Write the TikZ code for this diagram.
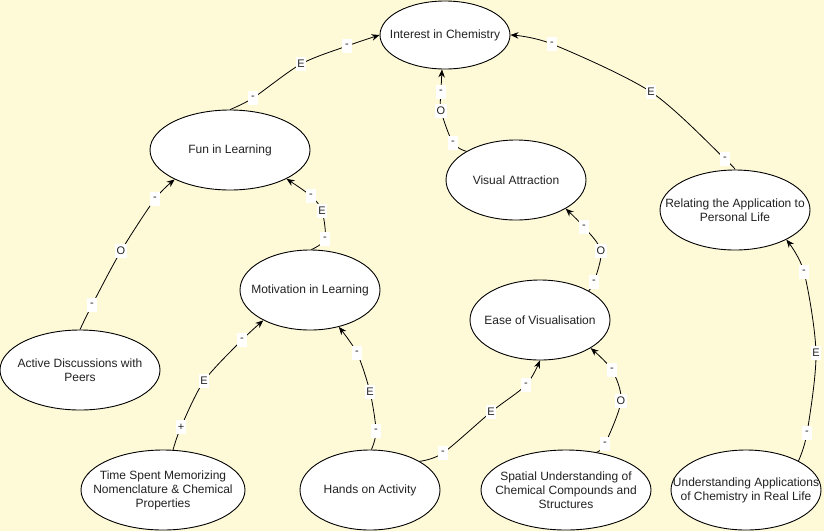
\documentclass[tikz,border=0pt]{standalone}
\usepackage{fontspec}
\setmainfont{Liberation Sans}
\usetikzlibrary{shapes.geometric,arrows.meta}
\definecolor{bgc}{HTML}{FEF9D7}
\definecolor{txtc}{HTML}{222222}
\begin{document}
\begin{tikzpicture}[x=1pt,y=-1pt,
  ell/.style={ellipse, draw=black, fill=white, line width=0.9pt, inner sep=0pt, minimum height=80pt},
  txt/.style={align=center, font=\fontsize{12}{14}\selectfont, text=txtc},
  lbl/.style={fill=white, font=\fontsize{11}{13}\selectfont, inner xsep=1.5pt, inner ysep=0pt, minimum width=10pt, minimum height=14pt, text=txtc},
  con/.style={draw=black, line width=0.8pt, -{Stealth[length=8pt,width=6.5pt]}}
]
\path[fill=bgc] (0,0) rectangle (824,531);
\useasboundingbox (0,0) rectangle (824,531);

% nodes
\node[ell, minimum width=130pt, minimum height=68pt, label={[txt]center:Interest in Chemistry}] (interest) at (445,35) {};
\node[ell, minimum width=160pt, label={[txt]center:Fun in Learning}] (fun) at (230,150) {};
\node[ell, minimum width=140pt, label={[txt]center:Visual Attraction}] (visual) at (516,180) {};
\node[ell, minimum width=150pt, label={[txt]center:{Relating the Application to\\Personal Life}}] (relating) at (735,210) {};
\node[ell, minimum width=160pt, label={[txt]center:{Active Discussions with\\Peers}}] (active) at (80,370) {};
\node[ell, minimum width=140pt, label={[txt]center:Motivation in Learning}] (motiv) at (310,290) {};
\node[ell, minimum width=140pt, label={[txt]center:Ease of Visualisation}] (ease) at (540,320) {};
\node[ell, minimum width=164pt, label={[txt]center:{Time Spent Memorizing\\Nomenclature \& Chemical\\Properties}}] (time) at (163,490) {};
\node[ell, minimum width=140pt, label={[txt]center:Hands on Activity}] (hands) at (370,490) {};
\node[ell, minimum width=170pt, label={[txt]center:{Spatial Understanding of\\Chemical Compounds and\\Structures}}] (spatial) at (566,490) {};
\node[ell, minimum width=150pt, label={[txt]center:{Understanding Applications\\of Chemistry in Real Life}}] (underst) at (746,490) {};

% via points (label positions)
\coordinate (a1) at (253,98);  \coordinate (a2) at (301,64);  \coordinate (a3) at (347,46);
\coordinate (b1) at (453,143); \coordinate (b2) at (441,111); \coordinate (b3) at (441,92);
\coordinate (c1) at (725,159); \coordinate (c2) at (651,92);  \coordinate (c3) at (552,44);
\coordinate (d1) at (92,305);  \coordinate (d2) at (121,251); \coordinate (d3) at (155,199);
\coordinate (e1) at (325,239); \coordinate (e2) at (322,211); \coordinate (e3) at (311,196);
\coordinate (f1) at (594,282); \coordinate (f2) at (601,251); \coordinate (f3) at (584,227);
\coordinate (g1) at (807,433); \coordinate (g2) at (816,353); \coordinate (g3) at (804,272);
\coordinate (h1) at (181,427); \coordinate (h2) at (204,381); \coordinate (h3) at (242,340);
\coordinate (i1) at (376,431); \coordinate (i2) at (370,392); \coordinate (i3) at (357,353);
\coordinate (j1) at (443,453); \coordinate (j2) at (491,412); \coordinate (j3) at (526,385);
\coordinate (k1) at (605,444); \coordinate (k2) at (621,401); \coordinate (k3) at (612,370);

% connectors
\draw[con] plot[smooth] coordinates {(fun.north) (a1) (a2) (a3) (interest.west)};
\draw[con] plot[smooth] coordinates {(visual.150) (b1) (b2) (b3) (interest.265)};
\draw[con] plot[smooth] coordinates {(relating.north) (c1) (c2) (c3) (interest.east)};
\draw[con] plot[smooth] coordinates {(active.north) (d1) (d2) (d3) (fun.208)};
\draw[con] plot[smooth] coordinates {(motiv.88) (e1) (e2) (e3) (fun.333)};
\draw[con] plot[smooth] coordinates {(ease.31) (f1) (f2) (f3) (visual.330)};
\draw[con] plot[smooth] coordinates {(underst.29) (g1) (g2) (g3) (relating.330)};
\draw[con] plot[smooth] coordinates {(time.76) (h1) (h2) (h3) (motiv.213)};
\draw[con] plot[smooth] coordinates {(hands.88) (i1) (i2) (i3) (motiv.308)};
\draw[con] plot[smooth] coordinates {(hands.30) (j1) (j2) (j3) (ease.south)};
\draw[con] plot[smooth] coordinates {(spatial.51) (k1) (k2) (k3) (ease.331)};

% labels
\node[lbl] (la1) at (a1) {-}; \node[lbl] (la2) at (a2) {E}; \node[lbl] (la3) at (a3) {-};
\node[lbl] (lb1) at (b1) {-}; \node[lbl] (lb2) at (b2) {O}; \node[lbl] (lb3) at (b3) {-};
\node[lbl] (lc1) at (c1) {-}; \node[lbl] (lc2) at (c2) {E}; \node[lbl] (lc3) at (c3) {-};
\node[lbl] (ld1) at (d1) {-}; \node[lbl] (ld2) at (d2) {O}; \node[lbl] (ld3) at (d3) {-};
\node[lbl] (le1) at (e1) {-}; \node[lbl] (le2) at (e2) {E}; \node[lbl] (le3) at (e3) {-};
\node[lbl] (lf1) at (f1) {-}; \node[lbl] (lf2) at (f2) {O}; \node[lbl] (lf3) at (f3) {-};
\node[lbl] (lg1) at (g1) {-}; \node[lbl] (lg2) at (g2) {E}; \node[lbl] (lg3) at (g3) {-};
\node[lbl] (lh1) at (h1) {+}; \node[lbl] (lh2) at (h2) {E}; \node[lbl] (lh3) at (h3) {-};
\node[lbl] (li1) at (i1) {-}; \node[lbl] (li2) at (i2) {E}; \node[lbl] (li3) at (i3) {-};
\node[lbl] (lj1) at (j1) {-}; \node[lbl] (lj2) at (j2) {E}; \node[lbl] (lj3) at (j3) {-};
\node[lbl] (lk1) at (k1) {-}; \node[lbl] (lk2) at (k2) {O}; \node[lbl] (lk3) at (k3) {-};
\end{tikzpicture}
\end{document}
